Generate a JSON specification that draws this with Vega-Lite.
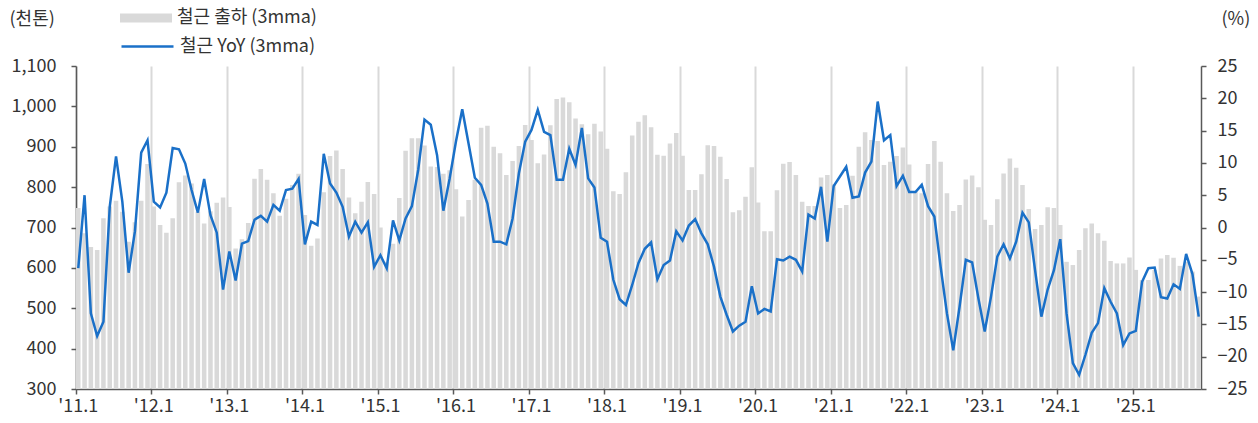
{
"$schema": "https://vega.github.io/schema/vega-lite/v6.json",
"width": 1125, "height": 323,
"autosize": {"type": "none"},
"padding": {"left": 76, "top": 66, "right": 57, "bottom": 34},
"background": "white",
"config": {
  "font": "Noto Sans CJK KR",
  "view": {"stroke": null},
  "axis": {"labelFont": "Noto Sans CJK KR", "labelFontSize": 18, "labelColor": "#333333", "titleFont": "Noto Sans CJK KR", "titleFontWeight": "normal", "titleFontSize": 18, "titleColor": "#333333", "domainColor": "#595959", "tickColor": "#595959", "domainWidth": 1.5, "tickWidth": 1.5, "tickSize": 5},
  "legend": {"labelFont": "Noto Sans CJK KR", "labelFontSize": 18, "labelColor": "#333333", "padding": 0, "offset": 0}
},
"data": {"values": [
{"m":"2011-01","v":748,"y":-6.3},{"m":"2011-02","v":686,"y":5.0},{"m":"2011-03","v":652,"y":-13.3},{"m":"2011-04","v":644,"y":-16.8},{"m":"2011-05","v":723,"y":-14.6},{"m":"2011-06","v":752,"y":3.2},{"m":"2011-07","v":766,"y":11.0},{"m":"2011-08","v":739,"y":4.0},{"m":"2011-09","v":665,"y":-7.0},{"m":"2011-10","v":713,"y":-0.6},{"m":"2011-11","v":766,"y":11.6},{"m":"2011-12","v":857,"y":13.5},
{"m":"2012-01","v":752,"y":4.0},{"m":"2012-02","v":706,"y":3.1},{"m":"2012-03","v":687,"y":5.4},{"m":"2012-04","v":723,"y":12.3},{"m":"2012-05","v":812,"y":12.1},{"m":"2012-06","v":829,"y":9.9},{"m":"2012-07","v":809,"y":5.8},{"m":"2012-08","v":739,"y":2.3},{"m":"2012-09","v":710,"y":7.5},{"m":"2012-10","v":740,"y":1.9},{"m":"2012-11","v":761,"y":-0.8},{"m":"2012-12","v":774,"y":-9.6},
{"m":"2013-01","v":751,"y":-3.7},{"m":"2013-02","v":648,"y":-8.2},{"m":"2013-03","v":671,"y":-2.5},{"m":"2013-04","v":711,"y":-2.1},{"m":"2013-05","v":821,"y":1.2},{"m":"2013-06","v":845,"y":1.8},{"m":"2013-07","v":818,"y":0.9},{"m":"2013-08","v":785,"y":3.5},{"m":"2013-09","v":729,"y":2.6},{"m":"2013-10","v":771,"y":5.8},{"m":"2013-11","v":805,"y":6.0},{"m":"2013-12","v":833,"y":7.5},
{"m":"2014-01","v":731,"y":-2.6},{"m":"2014-02","v":655,"y":0.9},{"m":"2014-03","v":673,"y":0.4},{"m":"2014-04","v":787,"y":11.4},{"m":"2014-05","v":877,"y":6.8},{"m":"2014-06","v":891,"y":5.4},{"m":"2014-07","v":845,"y":3.2},{"m":"2014-08","v":774,"y":-1.4},{"m":"2014-09","v":735,"y":0.9},{"m":"2014-10","v":764,"y":-0.8},{"m":"2014-11","v":813,"y":0.8},{"m":"2014-12","v":783,"y":-6.1},
{"m":"2015-01","v":700,"y":-4.3},{"m":"2015-02","v":615,"y":-6.3},{"m":"2015-03","v":660,"y":1.1},{"m":"2015-04","v":773,"y":-2.0},{"m":"2015-05","v":890,"y":1.4},{"m":"2015-06","v":921,"y":3.3},{"m":"2015-07","v":921,"y":8.9},{"m":"2015-08","v":903,"y":16.7},{"m":"2015-09","v":851,"y":15.9},{"m":"2015-10","v":850,"y":11.2},{"m":"2015-11","v":833,"y":2.6},{"m":"2015-12","v":842,"y":7.6},
{"m":"2016-01","v":795,"y":13.3},{"m":"2016-02","v":727,"y":18.3},{"m":"2016-03","v":768,"y":13.0},{"m":"2016-04","v":818,"y":7.7},{"m":"2016-05","v":947,"y":6.6},{"m":"2016-06","v":952,"y":3.7},{"m":"2016-07","v":900,"y":-2.2},{"m":"2016-08","v":884,"y":-2.2},{"m":"2016-09","v":830,"y":-2.6},{"m":"2016-10","v":865,"y":1.4},{"m":"2016-11","v":902,"y":8.4},{"m":"2016-12","v":954,"y":13.3},
{"m":"2017-01","v":917,"y":15.1},{"m":"2017-02","v":859,"y":18.2},{"m":"2017-03","v":881,"y":14.8},{"m":"2017-04","v":953,"y":14.3},{"m":"2017-05","v":1018,"y":7.4},{"m":"2017-06","v":1022,"y":7.4},{"m":"2017-07","v":1010,"y":12.2},{"m":"2017-08","v":970,"y":9.7},{"m":"2017-09","v":956,"y":15.4},{"m":"2017-10","v":931,"y":7.6},{"m":"2017-11","v":957,"y":6.2},{"m":"2017-12","v":938,"y":-1.6},
{"m":"2018-01","v":895,"y":-2.2},{"m":"2018-02","v":790,"y":-8.1},{"m":"2018-03","v":783,"y":-11.1},{"m":"2018-04","v":837,"y":-12.0},{"m":"2018-05","v":928,"y":-8.9},{"m":"2018-06","v":962,"y":-5.5},{"m":"2018-07","v":978,"y":-3.3},{"m":"2018-08","v":948,"y":-2.3},{"m":"2018-09","v":880,"y":-8.0},{"m":"2018-10","v":878,"y":-5.8},{"m":"2018-11","v":908,"y":-5.1},{"m":"2018-12","v":934,"y":-0.6},
{"m":"2019-01","v":878,"y":-2.0},{"m":"2019-02","v":793,"y":0.3},{"m":"2019-03","v":793,"y":1.3},{"m":"2019-04","v":832,"y":-0.9},{"m":"2019-05","v":904,"y":-2.6},{"m":"2019-06","v":902,"y":-6.1},{"m":"2019-07","v":875,"y":-10.7},{"m":"2019-08","v":820,"y":-13.5},{"m":"2019-09","v":738,"y":-16.1},{"m":"2019-10","v":743,"y":-15.2},{"m":"2019-11","v":776,"y":-14.6},{"m":"2019-12","v":849,"y":-9.1},
{"m":"2020-01","v":762,"y":-13.3},{"m":"2020-02","v":691,"y":-12.6},{"m":"2020-03","v":691,"y":-13.0},{"m":"2020-04","v":792,"y":-4.9},{"m":"2020-05","v":858,"y":-5.1},{"m":"2020-06","v":862,"y":-4.5},{"m":"2020-07","v":830,"y":-5.0},{"m":"2020-08","v":764,"y":-6.8},{"m":"2020-09","v":753,"y":2.0},{"m":"2020-10","v":753,"y":1.4},{"m":"2020-11","v":824,"y":6.3},{"m":"2020-12","v":830,"y":-2.2},
{"m":"2021-01","v":808,"y":6.4},{"m":"2021-02","v":748,"y":7.9},{"m":"2021-03","v":756,"y":9.4},{"m":"2021-04","v":828,"y":4.6},{"m":"2021-05","v":900,"y":4.8},{"m":"2021-06","v":936,"y":8.5},{"m":"2021-07","v":917,"y":10.2},{"m":"2021-08","v":914,"y":19.5},{"m":"2021-09","v":855,"y":13.5},{"m":"2021-10","v":863,"y":14.3},{"m":"2021-11","v":877,"y":6.4},{"m":"2021-12","v":898,"y":8.0},
{"m":"2022-01","v":856,"y":5.5},{"m":"2022-02","v":790,"y":5.5},{"m":"2022-03","v":785,"y":6.6},{"m":"2022-04","v":857,"y":3.3},{"m":"2022-05","v":914,"y":1.7},{"m":"2022-06","v":863,"y":-6.1},{"m":"2022-07","v":785,"y":-13.3},{"m":"2022-08","v":741,"y":-19.0},{"m":"2022-09","v":756,"y":-12.3},{"m":"2022-10","v":819,"y":-5.0},{"m":"2022-11","v":829,"y":-5.4},{"m":"2022-12","v":800,"y":-11.0},
{"m":"2023-01","v":719,"y":-16.1},{"m":"2023-02","v":706,"y":-10.7},{"m":"2023-03","v":770,"y":-4.5},{"m":"2023-04","v":834,"y":-2.6},{"m":"2023-05","v":871,"y":-4.8},{"m":"2023-06","v":848,"y":-2.2},{"m":"2023-07","v":805,"y":2.3},{"m":"2023-08","v":746,"y":0.8},{"m":"2023-09","v":696,"y":-6.6},{"m":"2023-10","v":706,"y":-13.8},{"m":"2023-11","v":750,"y":-9.6},{"m":"2023-12","v":748,"y":-6.6},
{"m":"2024-01","v":706,"y":-1.8},{"m":"2024-02","v":615,"y":-13.3},{"m":"2024-03","v":607,"y":-21.0},{"m":"2024-04","v":644,"y":-22.8},{"m":"2024-05","v":698,"y":-19.7},{"m":"2024-06","v":710,"y":-16.3},{"m":"2024-07","v":686,"y":-14.8},{"m":"2024-08","v":667,"y":-9.4},{"m":"2024-09","v":617,"y":-11.5},{"m":"2024-10","v":611,"y":-13.3},{"m":"2024-11","v":611,"y":-18.2},{"m":"2024-12","v":626,"y":-16.4},
{"m":"2025-01","v":595,"y":-16.0},{"m":"2025-02","v":570,"y":-8.4},{"m":"2025-03","v":570,"y":-6.3},{"m":"2025-04","v":595,"y":-6.2},{"m":"2025-05","v":623,"y":-10.8},{"m":"2025-06","v":632,"y":-11.0},{"m":"2025-07","v":625,"y":-8.8},{"m":"2025-08","v":605,"y":-9.5},{"m":"2025-09","v":615,"y":-4.1},{"m":"2025-10","v":591,"y":-7.2},{"m":"2025-11","v":529,"y":-13.8}
]},
"encoding": {
  "x": {"field": "m", "type": "ordinal", "sort": null,
    "scale": {"paddingInner": 0.28, "paddingOuter": 0},
    "axis": {"title": null, "values": ["2011-01","2012-01","2013-01","2014-01","2015-01","2016-01","2017-01","2018-01","2019-01","2020-01","2021-01","2022-01","2023-01","2024-01","2025-01"],
      "labelExpr": "\"'\" + substring(datum.value, 2, 4) + \".1\"", "bandPosition": 0, "labelAngle": 0, "labelPadding": 3,
      "grid": true, "gridColor": "#d9d9d9", "gridWidth": 2}}
},
"layer": [
  {"mark": {"type": "bar", "clip": true},
   "encoding": {
     "y": {"field": "v", "type": "quantitative", "scale": {"domain": [300, 1100], "zero": false, "nice": false},
       "axis": {"orient": "left", "values": [300,400,500,600,700,800,900,1000,1100], "format": ",d", "grid": false, "labelPadding": 15,
         "title": "(천톤)", "titleAngle": 0, "titleAlign": "left", "titleBaseline": "middle", "titleX": -67, "titleY": -47}},
     "y2": {"datum": 300},
     "fill": {"datum": "철근 출하 (3mma)", "type": "nominal", "scale": {"range": ["#d9d9d9"]},
       "legend": {"orient": "none", "legendX": 44, "legendY": -74, "title": null, "symbolType": "M-1,-0.17L1,-0.17L1,0.17L-1,0.17Z", "symbolSize": 2704, "symbolStrokeWidth": 0, "labelOffset": 5}}
   }},
  {"mark": {"type": "line", "strokeWidth": 2.5, "interpolate": "linear"},
   "encoding": {
     "y": {"field": "y", "type": "quantitative", "scale": {"domain": [-25, 25], "nice": false},
       "axis": {"orient": "right", "values": [-25,-20,-15,-10,-5,0,5,10,15,20,25], "grid": false, "labelPadding": 11,
         "title": "(%)", "titleAngle": 0, "titleAlign": "left", "titleBaseline": "middle", "titleX": 20, "titleY": -47}},
     "stroke": {"datum": "철근 YoY (3mma)", "type": "nominal", "scale": {"range": ["#1a70c8"]},
       "legend": {"orient": "none", "legendX": 44, "legendY": -47, "title": null, "symbolType": "stroke", "symbolSize": 2704, "symbolStrokeWidth": 2.5, "labelOffset": 5}}
   }}
],
"resolve": {"scale": {"y": "independent"}, "axis": {"y": "independent"}}
}
